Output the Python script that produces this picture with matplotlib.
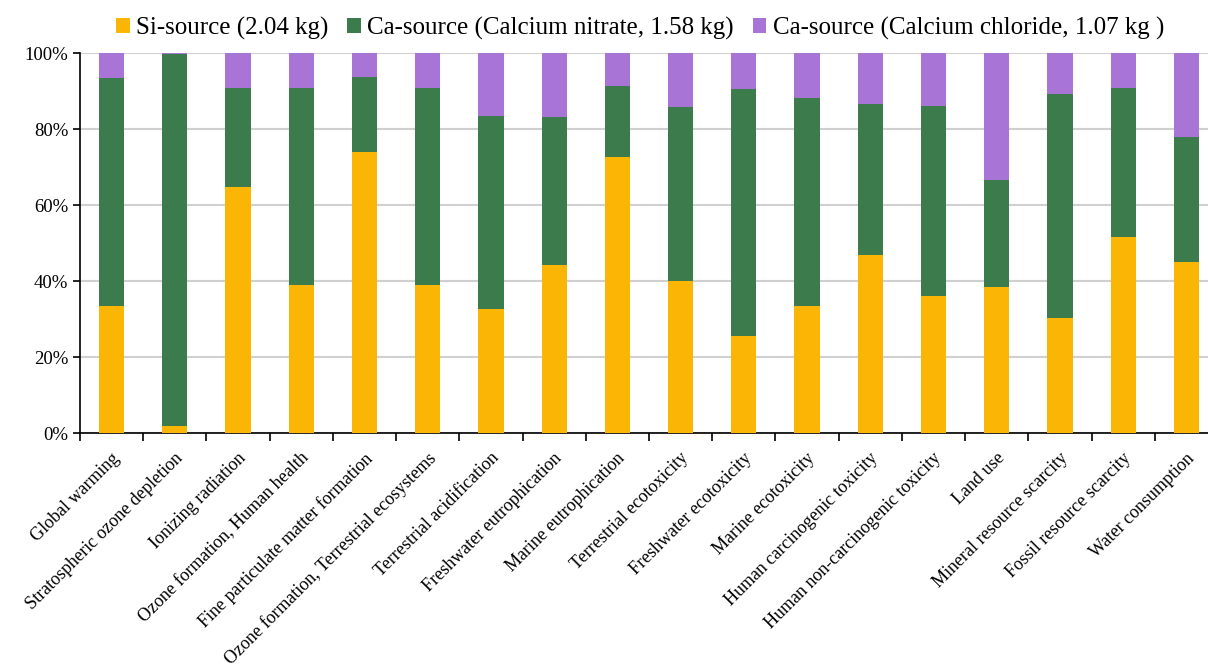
import matplotlib
matplotlib.use('Agg')
import matplotlib.pyplot as plt
import matplotlib.transforms as mtransforms
import numpy as np
from matplotlib.ticker import PercentFormatter

plt.rcParams['font.family'] = ['Liberation Serif', 'DejaVu Serif']

categories = ['Global warming', 'Stratospheric ozone depletion', 'Ionizing radiation',
              'Ozone formation, Human health', 'Fine particulate matter formation',
              'Ozone formation, Terrestrial ecosystems', 'Terrestrial acidification',
              'Freshwater eutrophication', 'Marine eutrophication', 'Terrestrial ecotoxicity',
              'Freshwater ecotoxicity', 'Marine ecotoxicity', 'Human carcinogenic toxicity',
              'Human non-carcinogenic toxicity', 'Land use', 'Mineral resource scarcity',
              'Fossil resource scarcity', 'Water consumption']

# shares in percent
si_source = [33.5, 1.9, 64.7, 39.0, 73.9, 39.0, 32.7, 44.3, 72.6, 40.0,
             25.4, 33.5, 46.9, 36.1, 38.5, 30.3, 51.5, 44.9]
ca_nitrate = [59.8, 97.8, 26.1, 51.8, 19.7, 51.8, 50.6, 38.9, 18.7, 45.8,
              65.2, 54.7, 39.7, 50.0, 28.2, 59.0, 39.3, 32.9]
ca_chloride = [6.7, 0.3, 9.2, 9.2, 6.4, 9.2, 16.7, 16.8, 8.7, 14.2,
               9.4, 11.8, 13.4, 13.9, 33.3, 10.7, 9.2, 22.2]

labels = ['Si-source (2.04 kg)', 'Ca-source (Calcium nitrate, 1.58 kg)',
          'Ca-source (Calcium chloride, 1.07 kg )']
colors = ['#FBB505', '#3B7B4C', '#A875D6']

fig = plt.figure(figsize=(12.08, 6.71), dpi=100)
ax = fig.add_axes([80/1208, 1-433/671, 1138/1208, 380/671])

x = np.arange(len(categories))
w = 0.4
si = np.array(si_source)
ni = np.array(ca_nitrate)
cl = np.array(ca_chloride)
ax.bar(x, si, w, color=colors[0], label=labels[0], zorder=3)
ax.bar(x, ni, w, bottom=si, color=colors[1], label=labels[1], zorder=3)
ax.bar(x, cl, w, bottom=si + ni, color=colors[2], label=labels[2], zorder=3)

ax.set_xlim(-0.5, len(categories) - 0.5)
ax.set_ylim(0, 100)
ax.set_yticks(np.arange(0, 101, 20))
ax.yaxis.set_major_formatter(PercentFormatter(decimals=0))
ax.yaxis.grid(True, color='#D0D0D0', linewidth=1.5, zorder=0)
ax.set_axisbelow(True)

# ticks sit between categories, labels centred under bars
ax.set_xticks(np.arange(-0.5, len(categories), 1))
ax.set_xticklabels([])
ax.set_xticks(x, minor=True)
ax.set_xticklabels(categories, minor=True, rotation=45, ha='right',
                   rotation_mode='anchor', fontsize=13)
ax.tick_params(axis='x', which='minor', length=0, pad=12)
ax.tick_params(axis='x', which='major', length=6, width=1.2, direction='out')
ax.tick_params(axis='y', length=5, width=1.2, labelsize=13.5)
offset = mtransforms.ScaledTranslation(-0.5/72, 0, fig.dpi_scale_trans)
for lab in ax.get_xticklabels(minor=True):
    lab.set_transform(lab.get_transform() + offset)

for s in ['top', 'right']:
    ax.spines[s].set_visible(False)
ax.spines['left'].set_linewidth(1.2)
ax.spines['bottom'].set_linewidth(1.2)

fig.legend(loc='center', bbox_to_anchor=(640/1208, 1-28/671), ncol=3, frameon=False,
           fontsize=18, handlelength=0.55, handleheight=0.55, handletextpad=0.25,
           columnspacing=0.75, borderaxespad=0)

fig.savefig('out.png', dpi=100, facecolor='white')
